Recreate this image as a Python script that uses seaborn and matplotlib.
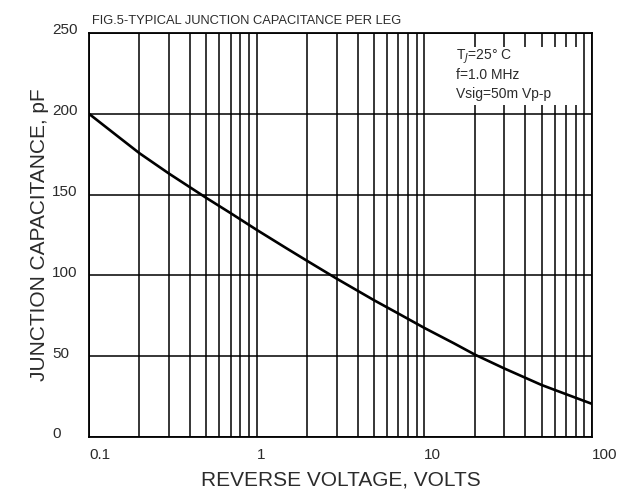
import pandas as pd
import matplotlib.pyplot as plt
import matplotlib.transforms as mtransforms
from matplotlib.patches import Rectangle
import seaborn as sns

# Values (reverse voltage in V, capacitance in pF)
voltage = [0.1, 0.15, 0.2, 0.3, 0.5, 0.7, 1, 1.5, 2, 3, 5, 7,
           10, 15, 20, 30, 50, 70, 100]
capacitance = [200, 185.7, 175.6, 163, 148, 138.5, 128.2, 116.9, 109, 98, 84.7, 76.4,
               67.5, 58, 51, 42.4, 32.2, 26.5, 20.5]

y_ticks = [0, 50, 100, 150, 200, 250]
x_ticks = [0.1, 1, 10, 100]
x_tick_labels = ["0.1", "1", "10", "100"]

notes = ["T$_J$=25° C", "f=1.0 MHz", "Vsig=50m Vp-p"]

df = pd.DataFrame({"voltage": voltage, "capacitance": capacitance})

sns.set_style("white")
plt.rcParams["font.family"] = ["Liberation Sans", "DejaVu Sans"]
text_col = "#2b2b2b"

fig = plt.figure(figsize=(6.24, 4.94), dpi=100)
ax = fig.add_axes([0.1426, 0.1154, 0.8061, 0.8178])

sns.lineplot(data=df, x="voltage", y="capacitance", ax=ax, color="black",
             linewidth=1.9, zorder=5)

ax.set_xscale("log")
ax.set_xlim(0.1, 100)
ax.set_ylim(0, 250)

# grid: decades plus 2..9 in every decade, all the same weight
ax.set_xticks(x_ticks)
ax.set_xticks([m * d for d in [0.1, 1, 10] for m in range(2, 10)], minor=True)
ax.set_yticks(y_ticks)
ax.grid(True, which="both", axis="x", color="black", linewidth=1.1)
ax.grid(True, which="major", axis="y", color="black", linewidth=1.1)
ax.tick_params(which="both", length=0)

ax.set_xticklabels(x_tick_labels, fontsize=11, color=text_col, ha="left")
ax.tick_params(axis="x", pad=8)
ax.set_yticklabels([str(t) for t in y_ticks], fontsize=11, color=text_col, ha="left")
ax.tick_params(axis="y", pad=26.5)
shift = mtransforms.ScaledTranslation(0, 3 / 72, fig.dpi_scale_trans)
for lab in ax.get_yticklabels():
    lab.set_transform(lab.get_transform() + shift)

for s in ax.spines.values():
    s.set_color("black")
    s.set_linewidth(1.3)

ax.set_xlabel("REVERSE VOLTAGE, VOLTS", fontsize=15, color=text_col, labelpad=6)
ax.set_ylabel("JUNCTION CAPACITANCE, pF", fontsize=15, color=text_col, labelpad=2)

ax.text(0.006, 1.014, "FIG.5-TYPICAL JUNCTION CAPACITANCE PER LEG", transform=ax.transAxes,
        fontsize=9.3, color=text_col, ha="left", va="bottom")

# white box behind the test conditions
ax.add_patch(Rectangle((0.698, 0.822), 0.274, 0.143, transform=ax.transAxes,
                       facecolor="white", edgecolor="none", zorder=3))
for i, t in enumerate(notes):
    ax.text(0.73, 0.94 - i * 0.045, t, transform=ax.transAxes, fontsize=10,
            color=text_col, ha="left", va="center", zorder=4)

plt.savefig("out.png", dpi=100)
